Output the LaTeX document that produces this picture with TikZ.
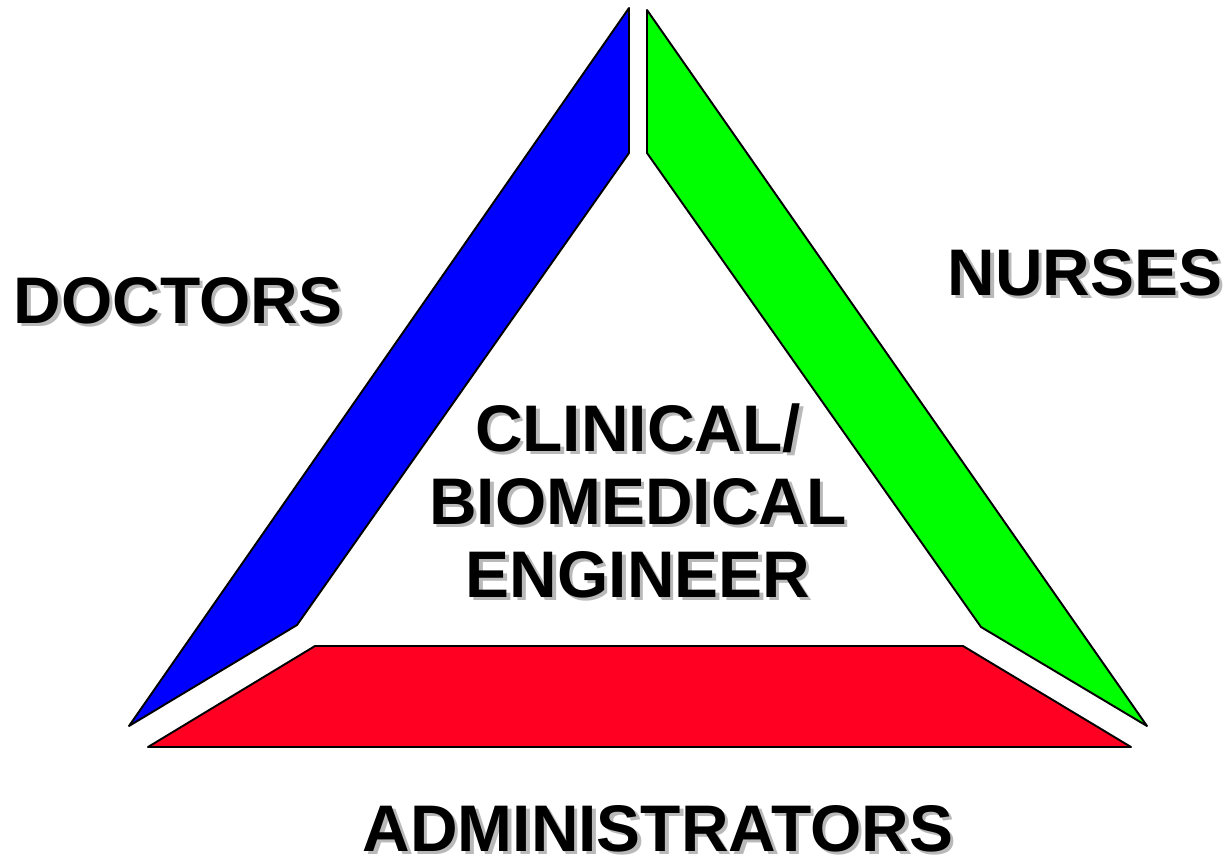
\documentclass[tikz,border=0pt]{standalone}
\usepackage{fontspec}
\setmainfont{Liberation Sans}
\usetikzlibrary{positioning}

\definecolor{docblue}{RGB}{0,0,255}
\definecolor{nursegreen}{RGB}{0,255,0}
\definecolor{adminred}{RGB}{255,0,34}
\definecolor{shadowgray}{RGB}{185,185,185}

% text with a grey drop shadow
\newcommand{\shadowed}[1]{\leavevmode\rlap{\kern0.07cm\raisebox{-0.07cm}{\textcolor{shadowgray}{#1}}}#1}

\begin{document}
\begin{tikzpicture}[x=0.02cm,y=-0.02cm,line join=round,semithick]
  \tikzstyle{side}=[draw=black,line width=1.1pt]
  \tikzstyle{role}=[inner sep=0pt,anchor=base,align=center,
    font=\fontsize{37.5}{36}\selectfont\bfseries]

  \useasboundingbox (0,0) rectangle (1228,860);

  % the three sides
  \filldraw[side,fill=docblue] (629,8) -- (629,153) -- (297,625) -- (129,726) -- cycle;
  \filldraw[side,fill=nursegreen] (647,10) -- (647,153) -- (981,627) -- (1147,726) -- cycle;
  \filldraw[side,fill=adminred] (148,747) -- (315,646) -- (963,646) -- (1131,747) -- cycle;

  \node[role] (doctors) at (178,323) {\shadowed{DOCTORS}};
  \node[role] (nurses)  at (1085,295) {\shadowed{NURSES}};
  \node[role] (admins)  at (658,851) {\shadowed{ADMINISTRATORS}};
  \node[role] (engineer) at (638,597)
    {\shadowed{CLINICAL/}\\[5.5pt]\shadowed{BIOMEDICAL}\\[5.5pt]\shadowed{ENGINEER}};
\end{tikzpicture}
\end{document}
